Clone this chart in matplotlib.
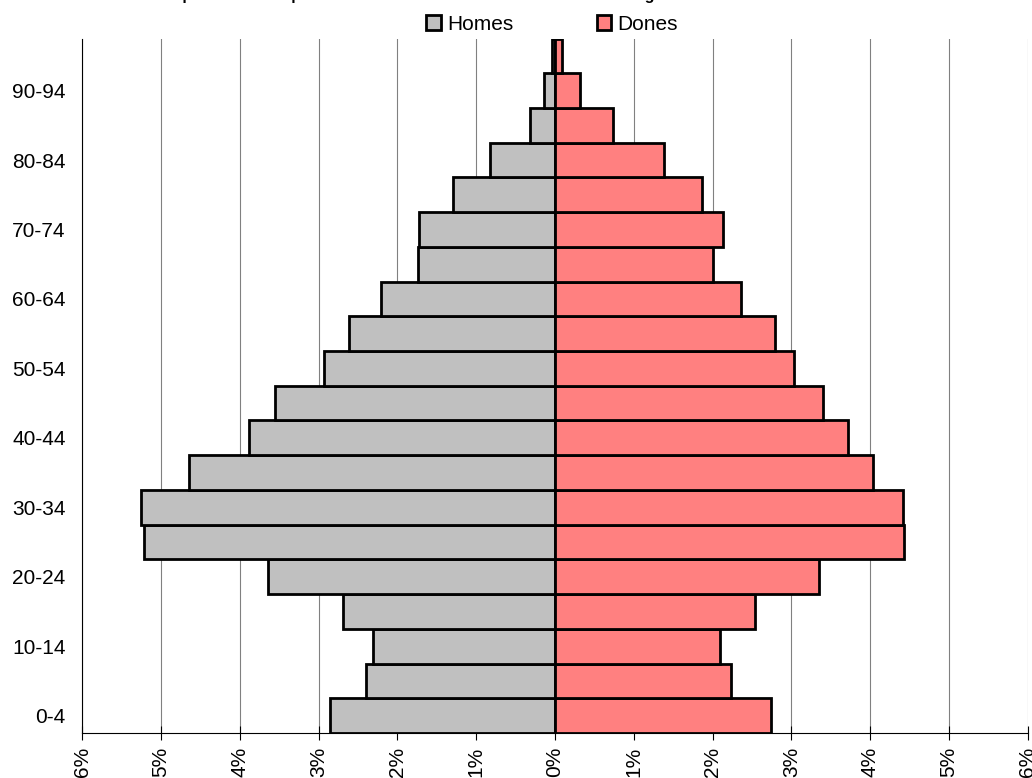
import numpy as np
import matplotlib
matplotlib.use("Agg")
import matplotlib.pyplot as plt
from matplotlib.patches import Patch

plt.rcParams["font.family"] = ["Liberation Sans", "DejaVu Sans"]

# ==========================================
# DADES (percentatge sobre el total)
# ==========================================

grups = ["0-4", "5-9", "10-14", "15-19", "20-24", "25-29", "30-34",
         "35-39", "40-44", "45-49", "50-54", "55-59", "60-64", "65-69",
         "70-74", "75-79", "80-84", "85-89", "90-94", "95+"]

homes = [2.86, 2.40, 2.31, 2.69, 3.64, 5.21, 5.25, 4.64, 3.89, 3.55,
         2.93, 2.62, 2.21, 1.74, 1.73, 1.29, 0.82, 0.32, 0.14, 0.04]

dones = [2.74, 2.23, 2.09, 2.54, 3.35, 4.43, 4.42, 4.03, 3.72, 3.40,
         3.03, 2.79, 2.36, 2.00, 2.13, 1.86, 1.38, 0.73, 0.32, 0.09]

ticks_x = [-6, -5, -4, -3, -2, -1, 0, 1, 2, 3, 4, 5, 6]

titol = ("Distribució percentual de persones residents a la ciutat "
         "de Barcelona segons sexe i edat")

color_homes = "#C0C0C0"
color_dones = "#FF8080"

# ==========================================
# GRÀFICA
# ==========================================

fig = plt.figure(figsize=(10.32, 7.78), dpi=100)
ax = fig.add_axes([0.0797, 0.0578, 0.9162, 0.8927])

y = np.arange(len(grups))

ax.barh(y, -np.array(homes), height=1.0, color=color_homes,
        edgecolor="black", linewidth=2.0, zorder=3)
ax.barh(y, dones, height=1.0, color=color_dones,
        edgecolor="black", linewidth=2.0, zorder=3)

ax.set_xlim(-6, 6)
ax.set_ylim(-0.5, len(grups) - 0.5)

ax.set_xticks(ticks_x)
ax.set_xticklabels([f"{abs(t)}%" for t in ticks_x], rotation=90,
                   fontsize=15)
ax.tick_params(axis="x", direction="inout", length=10, width=0.8,
               pad=5, colors="black")

ax.set_yticks(y[::2])
ax.set_yticklabels(grups[::2], fontsize=15)
ax.tick_params(axis="y", length=0, pad=12)

ax.grid(axis="x", color="#808080", linewidth=0.8, zorder=0)
ax.set_axisbelow(True)

for lado in ["top", "right"]:
    ax.spines[lado].set_visible(False)
ax.spines["left"].set_linewidth(0.8)
ax.spines["bottom"].set_linewidth(0.8)

handles = [
    Patch(facecolor=color_homes, edgecolor="black", linewidth=2.0, label="Homes"),
    Patch(facecolor=color_dones, edgecolor="black", linewidth=2.0, label="Dones"),
]
fig.legend(handles=handles, loc="center", bbox_to_anchor=(0.535, 0.9685),
           ncol=2, frameon=False, fontsize=15, handlelength=0.7,
           handleheight=0.7, handletextpad=0.3, columnspacing=4.0,
           borderpad=0, borderaxespad=0)

# titol tallat a la part superior
fig.text(94 / 1032, 1.0, titol, ha="left", va="baseline",
         fontsize=11.5, fontweight="bold")

fig.savefig("out.png", dpi=100)
